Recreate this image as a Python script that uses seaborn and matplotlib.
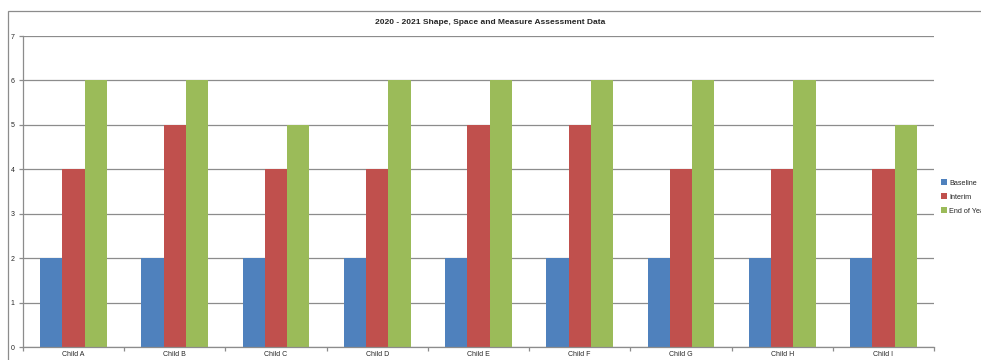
import pandas as pd
import seaborn as sns
import matplotlib.pyplot as plt
from matplotlib.patches import Rectangle

# data
children = ["Child A", "Child B", "Child C", "Child D", "Child E",
            "Child F", "Child G", "Child H", "Child I"]
baseline = [2, 2, 2, 2, 2, 2, 2, 2, 2]
interim = [4, 5, 4, 4, 5, 5, 4, 4, 4]
end_of_year = [6, 6, 5, 6, 6, 6, 6, 6, 5]
series = ["Baseline", "Interim", "End of Year"]
colors = ["#4F81BD", "#C0504D", "#9BBB59"]

df = pd.DataFrame({"child": children * 3,
                   "score": baseline + interim + end_of_year,
                   "series": [s for s in series for _ in children]})

sns.set_theme(style="white")
plt.rcParams['font.family'] = ['Liberation Sans', 'DejaVu Sans']

fig = plt.figure(figsize=(9.81, 3.6), dpi=100)
# outer chart frame (runs off the right/bottom edge like the original)
fig.patches.append(Rectangle((8 / 981, -0.05), 1.0, 1 - 11 / 360 + 0.05,
                             transform=fig.transFigure, fill=False,
                             edgecolor="#8c8c8c", linewidth=0.9))

ax = fig.add_axes([23 / 981, 13 / 360, 911 / 981, 311 / 360])
sns.barplot(data=df, x="child", y="score", hue="series", palette=colors,
            hue_order=series, width=0.66, saturation=1, linewidth=0,
            ax=ax, legend=True)

ax.set_ylim(0, 7)
ax.set_xlim(-0.5, len(children) - 0.5)
ax.set_yticks(range(0, 8))
ax.yaxis.grid(True, color="#8c8c8c", linewidth=0.9)
ax.set_axisbelow(True)
ax.set_xlabel("")
ax.set_ylabel("")
for s in ["top", "right"]:
    ax.spines[s].set_visible(False)
for s in ["left", "bottom"]:
    ax.spines[s].set_color("#8c8c8c")
    ax.spines[s].set_linewidth(0.9)

ax.set_xticks([i - 0.5 for i in range(len(children) + 1)], minor=True)
ax.tick_params(axis="x", which="major", length=0, labelsize=5, pad=3)
ax.tick_params(axis="x", which="minor", length=3, color="#8c8c8c", width=0.9,
               direction="out", bottom=True)
ax.tick_params(axis="y", length=3, color="#8c8c8c", width=0.9,
               direction="out", left=True, labelsize=5, pad=6)
for lab in ax.get_yticklabels():
    lab.set_horizontalalignment("left")

fig.text(490 / 981, 1 - 22 / 360, "2020 - 2021 Shape, Space and Measure Assessment Data",
         ha="center", va="center", fontsize=6, fontweight="bold")

ax.legend(loc="center left", bbox_to_anchor=(941 / 981, 1 - 197 / 360),
          bbox_transform=fig.transFigure, frameon=False, fontsize=5.2,
          handlelength=0.8, handleheight=0.8, handletextpad=0.3,
          labelspacing=0.95, borderaxespad=0, borderpad=0)

fig.savefig("out.png", dpi=100)
